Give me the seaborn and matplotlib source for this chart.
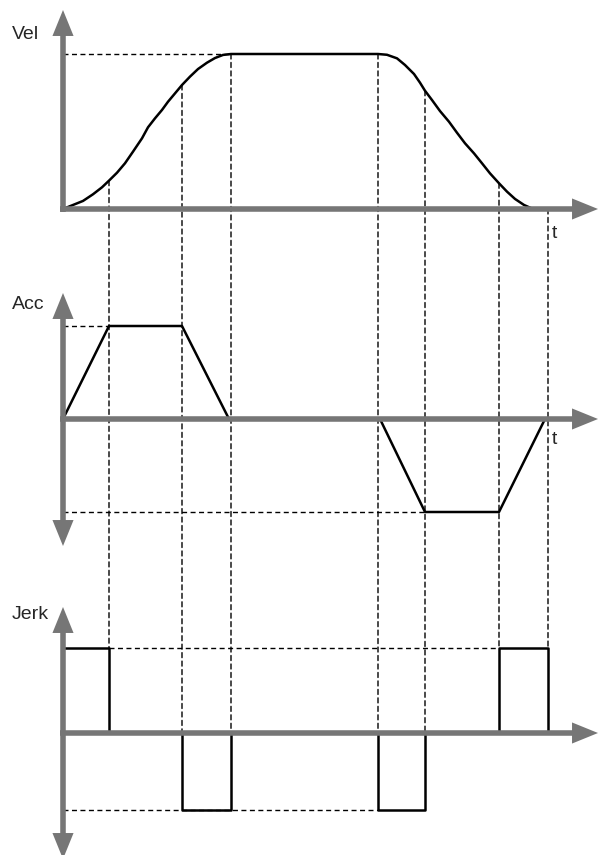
import numpy as np
import matplotlib
matplotlib.use("Agg")
import matplotlib.pyplot as plt
from matplotlib.patches import ConnectionPatch
import seaborn as sns

# phase boundaries of the jerk limited move (time, px-like units)
phase_t = [0, 46, 119, 168, 315, 362, 436, 485]

# velocity, normalised to 1 at cruise speed
vel_t = [0, 10, 20, 30, 39, 46, 54, 62, 70, 79, 85, 92, 99, 105, 112, 119, 127,
         135, 144, 152, 160, 168,
         315, 324, 334, 342, 351, 357, 362, 369, 377, 386, 394, 402, 411, 419,
         427, 436, 444, 452, 461, 470]
vel_v = [0, 0.026, 0.052, 0.095, 0.14, 0.183, 0.234, 0.295, 0.37, 0.456, 0.527,
         0.585, 0.639, 0.692, 0.746, 0.8, 0.854, 0.903, 0.944, 0.974, 0.994, 1.0,
         1.0, 0.995, 0.972, 0.929, 0.871, 0.815, 0.763, 0.703, 0.632, 0.563,
         0.492, 0.424, 0.359, 0.295, 0.23, 0.166, 0.112, 0.065, 0.026, 0]

# acceleration (trapezoids)
acc_t = [0, 46, 119, 166, 317, 362, 436, 482]
acc_v = [0, 1, 1, 0, 0, -1, -1, 0]

# jerk (steps, value holds until the next time)
jerk_t = phase_t
jerk_v = [1, 0, -0.9, 0, -0.9, 0, 1, 0]

# where each vertical guide stops on the jerk plot
guide_jerk = [1, 0, 0, 0, 0, 1, 1]

GRAY = "#767676"
AX_LW = 4.0
HL, HW = 18.7, 7.6
DASH = (0, (3.6, 2.5))

sns.set_style("white")
plt.rcParams["font.family"] = ["Liberation Sans", "DejaVu Sans"]

W, H = 598, 855
fig = plt.figure(figsize=(W / 100, H / 100), dpi=100)


def add_panel(top, bottom, zero, scale):
    ax = fig.add_axes([0, 1 - bottom / H, 1, (bottom - top) / H])
    ax.set_xlim(-63, W - 63)
    ax.set_ylim((zero - bottom) / scale, (zero - top) / scale)
    ax.axis("off")
    return ax


def axis_arrow(ax, start, tip, shaft_end):
    ax.plot([start[0], shaft_end[0]], [start[1], shaft_end[1]], color=GRAY,
            lw=AX_LW, solid_capstyle="butt", zorder=5)
    ax.annotate("", xy=tip, xytext=start, annotation_clip=False, zorder=5,
                arrowprops=dict(arrowstyle=f"-|>,head_length={HL},head_width={HW}",
                                mutation_scale=1, lw=0, color=GRAY,
                                shrinkA=0, shrinkB=0))


# panels: pixel top, bottom, zero line, px per unit
vel_px = (0, 262, 209, 155)
acc_px = (262, 570, 419, 93)
jerk_px = (570, 855, 733, 85)

ax_v = add_panel(*vel_px)
ax_a = add_panel(*acc_px)
ax_j = add_panel(*jerk_px)


def py(panel, px):
    return (panel[2] - px) / panel[3]


# curves
sns.lineplot(x=vel_t, y=vel_v, ax=ax_v, color="black", lw=1.8, sort=False,
             estimator=None, zorder=3)
sns.lineplot(x=acc_t, y=acc_v, ax=ax_a, color="black", lw=1.8, sort=False,
             estimator=None, zorder=3)
sns.lineplot(x=jerk_t, y=jerk_v, ax=ax_j, color="black", lw=1.8, sort=False,
             estimator=None, drawstyle="steps-post", zorder=3)

# axes with arrow heads
for ax in (ax_v, ax_a, ax_j):
    axis_arrow(ax, (-3, 0), (535, 0), (515, 0))

axis_arrow(ax_v, (0, py(vel_px, 212)), (0, py(vel_px, 10)), (0, py(vel_px, 28)))
axis_arrow(ax_a, (0, 0), (0, py(acc_px, 293)), (0, py(acc_px, 312)))
axis_arrow(ax_a, (0, 0), (0, py(acc_px, 546)), (0, py(acc_px, 526)))
axis_arrow(ax_j, (0, 0), (0, py(jerk_px, 607)), (0, py(jerk_px, 625)))
axis_arrow(ax_j, (0, 0), (0, py(jerk_px, 859)), (0, py(jerk_px, 841)))

# horizontal dashed guides
ax_v.hlines(max(vel_v), 0, phase_t[3], color="black", lw=1, linestyles=DASH, zorder=1)
ax_a.hlines(max(acc_v), 0, phase_t[1], color="black", lw=1, linestyles=DASH, zorder=1)
ax_a.hlines(min(acc_v), 0, phase_t[5], color="black", lw=1, linestyles=DASH, zorder=1)
ax_j.hlines(max(jerk_v), phase_t[1], phase_t[6], color="black", lw=1, linestyles=DASH, zorder=1)
ax_j.hlines(min(jerk_v), 0, phase_t[4], color="black", lw=1, linestyles=DASH, zorder=1)

# vertical dashed guides from the velocity curve down to the jerk plot
for t, jend in zip(phase_t[1:], guide_jerk):
    v0 = np.interp(t, vel_t, vel_v)
    con = ConnectionPatch(xyA=(t, v0), coordsA=ax_v.transData,
                          xyB=(t, jend), coordsB=ax_j.transData,
                          color="black", lw=1, linestyle=DASH, zorder=-1)
    fig.add_artist(con)

# labels
fs = 14
ax_v.text(-51, py(vel_px, 39), "Vel", fontsize=fs, va="baseline")
ax_a.text(-51, py(acc_px, 309), "Acc", fontsize=fs, va="baseline")
ax_j.text(-51, py(jerk_px, 619), "Jerk", fontsize=fs, va="baseline")
ax_v.text(489, py(vel_px, 238), "t", fontsize=fs, va="baseline")
ax_a.text(489, py(acc_px, 444), "t", fontsize=fs, va="baseline")

fig.savefig("out.png", dpi=100)
